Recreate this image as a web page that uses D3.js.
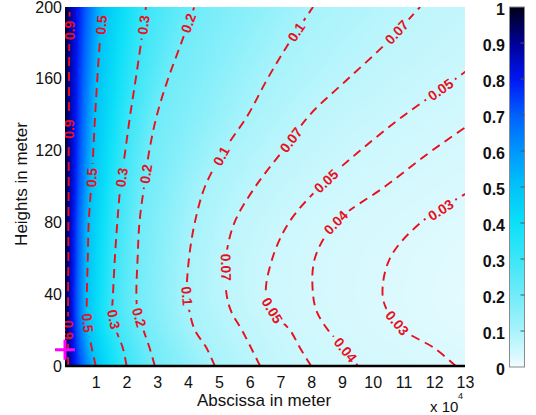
<!DOCTYPE html>
<html>
<head>
<meta charset="utf-8">
<script src="https://cdn.jsdelivr.net/npm/d3@7"></script>
<style>
  html, body { margin: 0; padding: 0; background: #fff; }
  svg { display: block; font-family: "Liberation Sans", Arial, sans-serif; }
</style>
</head>
<body>
<svg id="chart" width="536" height="415"></svg>
<script>
const heights = [0, 10, 20, 30, 40, 60, 80, 100, 120, 140, 160, 180, 200];

// contour levels and, for each level, the abscissa (x 10^4 m) at each height
const levels = [0.9, 0.5, 0.3, 0.2, 0.1, 0.07, 0.05, 0.04, 0.03];
const x090 = [0.10, 0.10, 0.10, 0.10, 0.10, 0.11, 0.11, 0.12, 0.12, 0.13, 0.13, 0.14, 0.15];
const x050 = [1.00, 0.87, 0.76, 0.71, 0.71, 0.74, 0.77, 0.85, 0.92, 0.98, 1.05, 1.13, 1.23];
const x030 = [2.00, 1.88, 1.66, 1.54, 1.56, 1.62, 1.70, 1.80, 1.96, 2.12, 2.30, 2.47, 2.63];
const x020 = [2.92, 2.75, 2.55, 2.36, 2.32, 2.36, 2.42, 2.57, 2.74, 2.99, 3.35, 3.78, 4.20];
const x010 = [4.87, 4.60, 4.22, 4.05, 3.96, 4.03, 4.22, 4.55, 5.17, 5.95, 6.58, 7.28, 8.06];
const x007 = [6.34, 6.05, 5.75, 5.41, 5.25, 5.23, 5.51, 6.19, 7.08, 7.96, 9.20, 10.45, 11.54];
const x005 = [8.00, 7.64, 7.31, 6.76, 6.53, 6.74, 7.28, 8.29, 9.59, 11.05, 12.70, 14.20, 15.70];
const x004 = [9.52, 9.07, 8.55, 8.19, 8.06, 8.12, 8.80, 10.40, 11.93, 13.60, 15.20, 16.80, 18.50];
const x003 = [12.70, 12.00, 11.00, 10.50, 10.32, 10.56, 11.57, 13.40, 15.10, 16.60, 18.00, 19.30, 20.50];
const crossings = [x090, x050, x030, x020, x010, x007, x005, x004, x003];

// value at the source wall (x = 0)
const wallValue = 1.0;

// where the inline contour labels sit: [level, height]
const labelSpots = [
  [0.9, 187], [0.9, 132], [0.9, 20],
  [0.5, 190], [0.5, 105], [0.5, 24],
  [0.3, 190], [0.3, 105], [0.3, 26],
  [0.2, 191], [0.2, 107], [0.2, 27],
  [0.1, 186], [0.1, 117], [0.1, 39],
  [0.07, 186], [0.07, 126], [0.07, 55],
  [0.05, 154], [0.05, 103], [0.05, 31],
  [0.04, 80], [0.04, 9],
  [0.03, 87], [0.03, 24]
];

const source = [0, 9];

const xTicks = [1, 2, 3, 4, 5, 6, 7, 8, 9, 10, 11, 12, 13];
const yTicks = [0, 40, 80, 120, 160, 200];
const barTicks = [0, 0.1, 0.2, 0.3, 0.4, 0.5, 0.6, 0.7, 0.8, 0.9, 1];

// colour map
const cmapStops = [0, 0.1, 0.2, 0.3, 0.4, 0.5, 0.6, 0.7, 0.8, 0.9, 1];
const cmapColors = ['#f0fcff', '#a8f3fb', '#70ecf9', '#3ce6f8', '#0ce0f8', '#00c4f8',
                    '#0096fc', '#0060ff', '#0016f2', '#000096', '#000016'];

const svg = d3.select('#chart');

const x = d3.scaleLinear().domain([0, 13]).range([65, 465]);
const y = d3.scaleLinear().domain([0, 200]).range([366, 7]);
const cmap = d3.scaleLinear().domain(cmapStops).range(cmapColors).clamp(true);

// crossing position of each level as a function of height
const crossAt = crossings.map(c => d3.scaleLinear().domain(heights).range(c));

// --- filled field, drawn on a canvas then placed in the svg
const x0 = x.range()[0], y0 = y.range()[1];
const pw = x.range()[1] - x0, ph = y.range()[0] - y0;
const canvas = document.createElement('canvas');
canvas.width = pw;
canvas.height = ph;
const ctx = canvas.getContext('2d');
const img = ctx.createImageData(pw, ph);
for (let j = 0; j < ph; j++) {
  const h = y.invert(y0 + j + 0.5);
  const xs = crossAt.map(s => s(h));
  const row = d3.scaleLinear().domain([0, ...xs]).range([wallValue, ...levels]);
  for (let i = 0; i < pw; i++) {
    const v = row(x.invert(x0 + i + 0.5));
    const c = d3.rgb(cmap(v));
    const k = (j * pw + i) * 4;
    img.data[k] = c.r;
    img.data[k + 1] = c.g;
    img.data[k + 2] = c.b;
    img.data[k + 3] = 255;
  }
}
ctx.putImageData(img, 0, 0);

const defs = svg.append('defs');
defs.append('clipPath').attr('id', 'plotClip')
  .append('rect').attr('x', x0).attr('y', y0).attr('width', pw).attr('height', ph);

svg.append('image')
  .attr('x', x0).attr('y', y0)
  .attr('width', pw).attr('height', ph)
  .attr('preserveAspectRatio', 'none')
  .attr('href', canvas.toDataURL());

// --- label geometry (needed for the gaps in the dashed lines)
const labels = labelSpots.map(([lvl, h]) => {
  const s = crossAt[levels.indexOf(lvl)];
  const p1 = [x(s(h - 4)), y(h - 4)], p2 = [x(s(h + 4)), y(h + 4)];
  let a = Math.atan2(p2[1] - p1[1], p2[0] - p1[0]) * 180 / Math.PI;
  if (a > 90) a -= 180;
  if (a <= -90) a += 180;
  return { text: String(lvl), px: x(s(h)), py: y(h), angle: a };
});

const gapW = d => d.text.length * 7.8 + 4;
const mask = defs.append('mask').attr('id', 'labelGaps')
  .attr('maskUnits', 'userSpaceOnUse')
  .attr('x', 0).attr('y', 0).attr('width', 536).attr('height', 415);
mask.append('rect').attr('width', 536).attr('height', 415).attr('fill', '#fff');
mask.selectAll('rect.gap')
  .data(labels)
  .enter()
  .append('rect')
  .attr('class', 'gap')
  .attr('x', d => -gapW(d) / 2)
  .attr('y', -7)
  .attr('width', gapW)
  .attr('height', 14)
  .attr('fill', '#000')
  .attr('transform', d => `translate(${d.px},${d.py}) rotate(${d.angle})`);

// --- dashed contour lines
const line = d3.line().curve(d3.curveCatmullRom.alpha(0.5));
const contourG = svg.append('g').attr('clip-path', 'url(#plotClip)');
contourG.append('g').attr('mask', 'url(#labelGaps)')
  .selectAll('path')
  .data(crossings)
  .enter()
  .append('path')
  .attr('d', c => line(c.map((v, i) => [x(v), y(heights[i])])))
  .attr('fill', 'none')
  .attr('stroke', '#e8101c')
  .attr('stroke-width', 1.9)
  .attr('stroke-dasharray', '9,6');

contourG.selectAll('text')
  .data(labels)
  .enter()
  .append('text')
  .attr('transform', d => `translate(${d.px},${d.py}) rotate(${d.angle})`)
  .attr('text-anchor', 'middle')
  .attr('dy', '0.36em')
  .style('font-size', '14px')
  .style('font-weight', 'bold')
  .style('fill', '#e8101c')
  .text(d => d.text);

// --- source marker
svg.append('path')
  .attr('d', `M${x(source[0]) - 10},${y(source[1])}h20M${x(source[0])},${y(source[1]) - 10}v20`)
  .attr('stroke', '#ff00ff')
  .attr('stroke-width', 3);

// --- axes
const xAxis = svg.append('g')
  .attr('transform', `translate(0,${y(0)})`)
  .call(d3.axisBottom(x).tickValues(xTicks).tickSize(0).tickPadding(11));
xAxis.select('.domain').remove();
xAxis.selectAll('text').style('font-size', '16px').style('fill', '#111').style('font-family', 'inherit');

svg.append('line')
  .attr('x1', x(0)).attr('x2', x(13))
  .attr('y1', y(0)).attr('y2', y(0))
  .attr('stroke', '#000').attr('stroke-width', 2.6);

const yAxis = svg.append('g')
  .attr('transform', `translate(${x(0)},0)`)
  .call(d3.axisLeft(y).tickValues(yTicks).tickSize(0).tickPadding(3));
yAxis.select('.domain').remove();
yAxis.selectAll('text').style('font-size', '16px').style('fill', '#111').style('font-family', 'inherit');

svg.append('text')
  .attr('x', 264).attr('y', 406)
  .attr('text-anchor', 'middle')
  .style('font-size', '17px').style('fill', '#111')
  .text('Abscissa in meter');

svg.append('text')
  .attr('transform', 'translate(27,184) rotate(-90)')
  .attr('text-anchor', 'middle')
  .style('font-size', '17px').style('fill', '#111')
  .text('Heights in meter');

svg.append('text')
  .attr('x', 430).attr('y', 412)
  .style('font-size', '15px').style('fill', '#111')
  .text('x 10');
svg.append('text')
  .attr('x', 458).attr('y', 399)
  .style('font-size', '9px').style('fill', '#111')
  .text('4');

// --- colour bar
const cb = d3.scaleLinear().domain([0, 1]).range([367, 7]);
const grad = defs.append('linearGradient').attr('id', 'cbar')
  .attr('x1', 0).attr('y1', 1).attr('x2', 0).attr('y2', 0);
grad.selectAll('stop')
  .data(cmapStops)
  .enter()
  .append('stop')
  .attr('offset', d => d)
  .attr('stop-color', (d, i) => cmapColors[i]);

svg.append('rect')
  .attr('x', 509.5).attr('y', cb(1))
  .attr('width', 15).attr('height', cb(0) - cb(1))
  .attr('fill', 'url(#cbar)')
  .attr('stroke', '#8a8a8a').attr('stroke-width', 1);

svg.selectAll('.cbtick')
  .data(barTicks.slice(1, -1))
  .enter()
  .append('line')
  .attr('class', 'cbtick')
  .attr('x1', 520.5).attr('x2', 524.5)
  .attr('y1', d => cb(d)).attr('y2', d => cb(d))
  .attr('stroke', '#555').attr('stroke-width', 1);

svg.selectAll('.cblabel')
  .data(barTicks)
  .enter()
  .append('text')
  .attr('class', 'cblabel')
  .attr('x', 505)
  .attr('y', d => cb(d) + 2)
  .attr('dy', '0.36em')
  .attr('text-anchor', 'end')
  .style('font-size', '16px')
  .style('font-weight', 'bold')
  .style('fill', '#111')
  .text(d => (d === 0 || d === 1) ? d : d.toFixed(1));
</script>
</body>
</html>
